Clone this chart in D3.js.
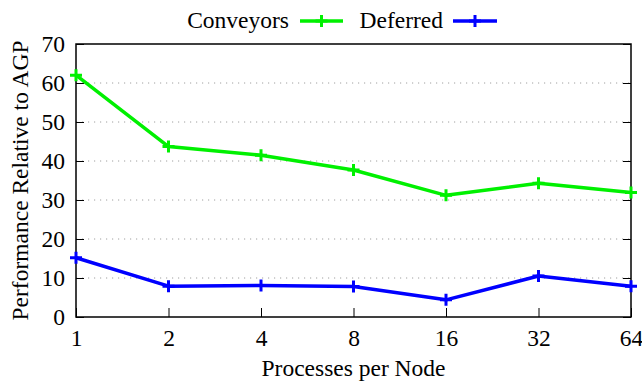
<!DOCTYPE html>
<html>
<head>
<meta charset="utf-8">
<script src="https://cdn.jsdelivr.net/npm/d3@7"></script>
<style>
  html, body { margin: 0; padding: 0; background: #fff; }
  text { font-family: "Liberation Serif", "Times New Roman", serif; fill: #000; }
</style>
</head>
<body>
<script>
// data
const procs = ["1", "2", "4", "8", "16", "32", "64"];
const conveyors = [62.0, 43.7, 41.5, 37.7, 31.2, 34.3, 31.9];
const deferred = [15.2, 7.9, 8.1, 7.8, 4.4, 10.5, 7.9];
const yTicks = [0, 10, 20, 30, 40, 50, 60, 70];
const seriesNames = ["Conveyors", "Deferred"];
const seriesColors = ["#00f000", "#0000ff"];

const width = 642, height = 381;
const margin = { top: 44, right: 11, bottom: 64, left: 76 };
const fs = 23.5;

const svg = d3.select("body").append("svg")
    .attr("width", width)
    .attr("height", height);

const x = d3.scalePoint()
    .domain(procs)
    .range([margin.left, width - margin.right]);

const y = d3.scaleLinear()
    .domain([0, 70])
    .range([height - margin.bottom, margin.top]);

// dotted grid lines
svg.append("g")
    .selectAll("line")
    .data(yTicks.filter(d => d > 0 && d < 70))
    .join("line")
    .attr("x1", margin.left)
    .attr("x2", width - margin.right)
    .attr("y1", d => y(d))
    .attr("y2", d => y(d))
    .attr("stroke", "#a0a0a0")
    .attr("stroke-width", 1)
    .attr("stroke-dasharray", "1.2,4.8");

// left axis, ticks pointing inward
const yAxis = svg.append("g")
    .attr("transform", `translate(${margin.left},0)`)
    .call(d3.axisLeft(y).tickValues(yTicks).tickSize(-8).tickPadding(11));
yAxis.select(".domain").remove();
yAxis.selectAll("text").attr("font-size", fs);

// right mirror ticks
const yAxisR = svg.append("g")
    .attr("transform", `translate(${width - margin.right},0)`)
    .call(d3.axisRight(y).tickValues(yTicks).tickSize(-8).tickFormat(""));
yAxisR.select(".domain").remove();

// bottom axis
const xAxis = svg.append("g")
    .attr("transform", `translate(0,${height - margin.bottom})`)
    .call(d3.axisBottom(x).tickSize(-9).tickPadding(12));
xAxis.select(".domain").remove();
xAxis.selectAll("text").attr("font-size", fs);

svg.selectAll(".tick line").attr("stroke", "#000").attr("stroke-width", 1);

// border box
svg.append("rect")
    .attr("x", margin.left)
    .attr("y", margin.top)
    .attr("width", width - margin.left - margin.right)
    .attr("height", height - margin.top - margin.bottom)
    .attr("fill", "none")
    .attr("stroke", "#000")
    .attr("stroke-width", 1.5);

// series
const line = d3.line()
    .x((d, i) => x(procs[i]))
    .y(d => y(d));

function plus(g, cx, cy, color) {
    g.append("path")
        .attr("d", `M${cx - 6},${cy}H${cx + 6}M${cx},${cy - 6}V${cy + 6}`)
        .attr("stroke", color)
        .attr("stroke-width", 3)
        .attr("fill", "none");
}

[conveyors, deferred].forEach((vals, k) => {
    const g = svg.append("g");
    g.append("path")
        .datum(vals)
        .attr("d", line)
        .attr("fill", "none")
        .attr("stroke", seriesColors[k])
        .attr("stroke-width", 3.5)
        .attr("stroke-linejoin", "round");
    vals.forEach((v, i) => plus(g, x(procs[i]), y(v), seriesColors[k]));
});

// legend along the top
const legend = [
    { name: seriesNames[0], textEnd: 289, x1: 300, x2: 343 },
    { name: seriesNames[1], textEnd: 443, x1: 453, x2: 497 }
];
legend.forEach((d, k) => {
    svg.append("text")
        .attr("x", d.textEnd)
        .attr("y", 28)
        .attr("text-anchor", "end")
        .attr("font-size", fs)
        .text(d.name);
    const g = svg.append("g");
    g.append("line")
        .attr("x1", d.x1).attr("x2", d.x2)
        .attr("y1", 21).attr("y2", 21)
        .attr("stroke", seriesColors[k])
        .attr("stroke-width", 3.5);
    plus(g, (d.x1 + d.x2) / 2, 21, seriesColors[k]);
});

// axis titles
svg.append("text")
    .attr("x", (margin.left + width - margin.right) / 2)
    .attr("y", 376)
    .attr("text-anchor", "middle")
    .attr("font-size", fs)
    .text("Processes per Node");

svg.append("text")
    .attr("transform", `translate(28,${(margin.top + height - margin.bottom) / 2}) rotate(-90)`)
    .attr("text-anchor", "middle")
    .attr("font-size", fs)
    .text("Performance Relative to AGP");
</script>
</body>
</html>
